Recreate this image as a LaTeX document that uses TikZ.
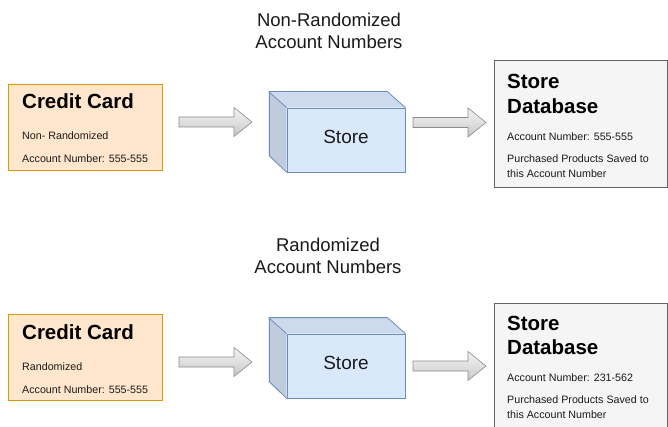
\documentclass[tikz,border=0pt]{standalone}
\usepackage{fontspec}
\setmainfont{Liberation Sans}
\usetikzlibrary{positioning,calc}

\definecolor{cardfill}{HTML}{FFE6CC}
\definecolor{carddraw}{HTML}{D79B00}
\definecolor{cubefill}{HTML}{DAE8FC}
\definecolor{cubedraw}{HTML}{6C8EBF}
\definecolor{dbfill}{HTML}{F5F5F5}
\definecolor{dbdraw}{HTML}{666666}
\definecolor{txt}{HTML}{1A1A1A}

% fat grey arrow between two named coordinates
\newcommand{\fatarrow}[2]{%
  \path[arrowbody] let \p1=(#1), \p2=(#2) in
    (\x1,\y1+5pt) -- (\x2-18pt,\y1+5pt) -- (\x2-18pt,\y1+14.5pt) -- (\x2,\y1)
    -- (\x2-18pt,\y1-14.5pt) -- (\x2-18pt,\y1-5pt) -- (\x1,\y1-5pt) -- cycle;}

\begin{document}
\begin{tikzpicture}[x=1pt,y=-1pt,
	cardbox/.style={rectangle, fill=cardfill, draw=carddraw, line width=0.8pt,
	minimum width=154pt, minimum height=86pt, inner sep=0pt},
	dbbox/.style={rectangle, fill=dbfill, draw=dbdraw, line width=0.8pt,
	minimum width=173pt, minimum height=127pt, inner sep=0pt},
	front/.style={rectangle, fill=cubefill, draw=cubedraw, line width=0.8pt,
	minimum width=118pt, minimum height=64pt, inner sep=0pt},
	face/.style={draw=cubedraw, line width=0.8pt, line join=round},
	arrowbody/.style={draw=black!45, line width=0.6pt, shading=axis,
	top color=gray!10, bottom color=gray!45, middle color=gray!25,
	shading angle=0},
	heading/.style={align=center, text=txt, inner sep=0pt,
	font=\fontsize{18.5}{21.5}\selectfont},
	bigtext/.style={anchor=base west, inner sep=0pt, text=black,
	font=\fontsize{20.5}{24}\selectfont\bfseries},
	smalltext/.style={anchor=base west, inner sep=0pt, text=txt,
	font=\fontsize{10.7}{13}\selectfont}
	]
	\clip (0,0) rectangle (668,427);
	\fill[white] (0,0) rectangle (668,427);

	% top row
	\node[heading] (head1) at (329,31) {Non-Randomized\\Account Numbers};

	\node[cardbox] (card1) at (85,127) {};
	\node[bigtext] (card1title) at (22,109) {Credit Card};
	\node[smalltext] (card1kind) at (22,140) {Non- Randomized};
	\node[smalltext] (card1num) at (22,163) {Account Number: 555-555};

	\node[front] (store1) at (346,140) {};
	\fill[cubefill!94!black] (store1.north west) -- ++(-18,-16)
		-- ($(store1.north east)+(-18,-16)$) -- (store1.north east) -- cycle;
	\fill[cubefill!88!black] (store1.north west) -- ++(-18,-16)
		-- ($(store1.south west)+(-18,-16)$) -- (store1.south west) -- cycle;
	\draw[face] (store1.north east) -- ++(-18,-16) -- ++(-118,0) -- ++(0,64)
		-- (store1.south west);
	\draw[face] ($(store1.north west)+(-18,-16)$) -- (store1.north west);
	\node[text=txt, font=\fontsize{19}{22}\selectfont] (store1text)
		at ($(store1.center)+(0,-3)$) {Store};

	\node[dbbox] (db1) at (580.5,123.5) {};
	\node[bigtext] (db1title) at (507,89) {Store};
	\node[bigtext] (db1title2) at (507,114) {Database};
	\node[smalltext] (db1num) at (507,141) {Account Number: 555-555};
	\node[smalltext] (db1note) at (507,163) {Purchased Products Saved to};
	\node[smalltext] (db1note2) at (507,178) {this Account Number};

	\coordinate (a1s) at (179,122);
	\coordinate (a1e) at (252,122);
	\coordinate (a2s) at (413,122.5);
	\coordinate (a2e) at (486,122.5);
	\fatarrow{a1s}{a1e}
	\fatarrow{a2s}{a2e}

	% bottom row
	\node[heading] (head2) at (328,256) {Randomized\\Account Numbers};

	\node[cardbox] (card2) at (85,357) {};
	\node[bigtext] (card2title) at (22,339) {Credit Card};
	\node[smalltext] (card2kind) at (22,370) {Randomized};
	\node[smalltext] (card2num) at (22,393) {Account Number: 555-555};

	\node[front] (store2) at (346,366) {};
	\fill[cubefill!94!black] (store2.north west) -- ++(-18,-16)
		-- ($(store2.north east)+(-18,-16)$) -- (store2.north east) -- cycle;
	\fill[cubefill!88!black] (store2.north west) -- ++(-18,-16)
		-- ($(store2.south west)+(-18,-16)$) -- (store2.south west) -- cycle;
	\draw[face] (store2.north east) -- ++(-18,-16) -- ++(-118,0) -- ++(0,64)
		-- (store2.south west);
	\draw[face] ($(store2.north west)+(-18,-16)$) -- (store2.north west);
	\node[text=txt, font=\fontsize{19}{22}\selectfont] (store2text)
		at ($(store2.center)+(0,-3)$) {Store};

	\node[dbbox] (db2) at (580.5,366.5) {};
	\node[bigtext] (db2title) at (507,330) {Store};
	\node[bigtext] (db2title2) at (507,354) {Database};
	\node[smalltext] (db2num) at (507,381) {Account Number: 231-562};
	\node[smalltext] (db2note) at (507,403) {Purchased Products Saved to};
	\node[smalltext] (db2note2) at (507,418) {this Account Number};

	\coordinate (b1s) at (179,362);
	\coordinate (b1e) at (252,362);
	\coordinate (b2s) at (413,366);
	\coordinate (b2e) at (486,366);
	\fatarrow{b1s}{b1e}
	\fatarrow{b2s}{b2e}
\end{tikzpicture}
\end{document}
